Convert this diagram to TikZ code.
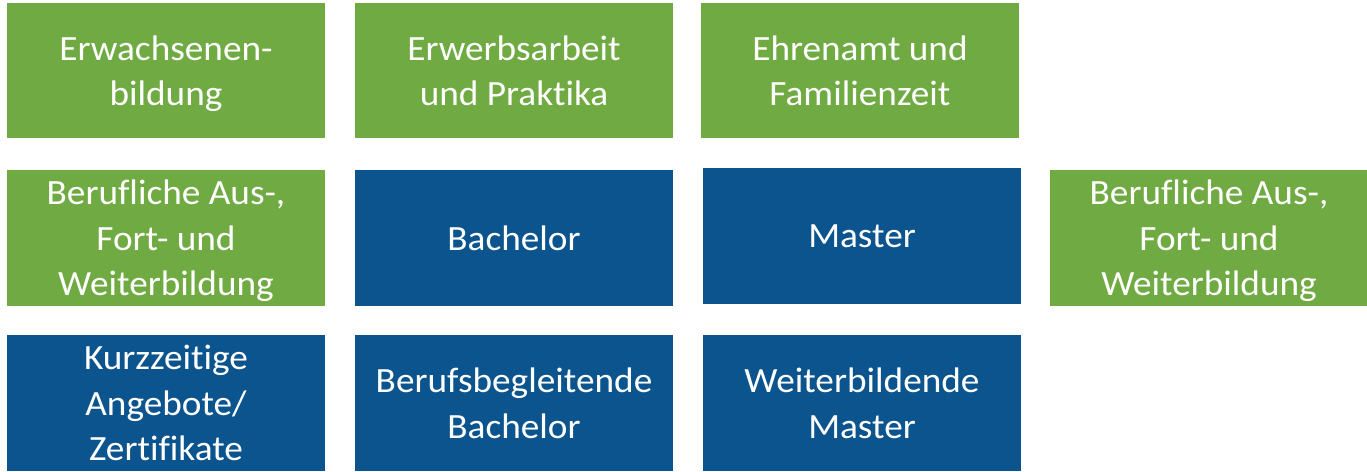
\documentclass[tikz,border=0pt]{standalone}
\usepackage{fontspec}
\setmainfont{Carlito}[Ligatures=NoCommon, FakeStretch=1.05]
\usepackage{tikz}
\usetikzlibrary{positioning}
\definecolor{BoxGreen}{RGB}{112,170,66}
\definecolor{BoxBlue}{RGB}{11,84,141}
\tikzset{
  tile/.style = {minimum width=318pt, minimum height=136pt, inner sep=0pt, text=white, align=center,
                 text depth=-2.5pt, font=\fontsize{35.5}{45.5}\selectfont},
  greentile/.style = {tile, fill=BoxGreen},
  bluetile/.style = {tile, fill=BoxBlue}
}

\begin{document}
\begin{tikzpicture}[x=1pt, y=-1pt]
            \useasboundingbox (0,0) rectangle (1367,471);

            % obere Reihe
            \node[greentile, minimum height=135pt, text depth=-4pt] (erwachsen) at (166,70.5) {Erwachsenen-\\bildung};
            \node[greentile, minimum height=135pt, text depth=-4pt] (erwerb) at (514,70.5) {Erwerbsarbeit\\und Praktika};
            \node[greentile, minimum height=135pt, text depth=-4pt] (ehrenamt) at (860,70.5) {Ehrenamt und\\Familienzeit};

            % mittlere Reihe
            \node[greentile] (beruflichA) at (166,238) {Berufliche Aus-,\\Fort- und\\Weiterbildung};
            \node[bluetile] (bachelor) at (514,238) {Bachelor};
            \node[bluetile] (master) at (862,236) {Master};
            \node[greentile] (beruflichB) at (1209,238) {Berufliche Aus-,\\Fort- und\\Weiterbildung};

            % untere Reihe
            \node[bluetile] (kurz) at (166,403) {Kurzzeitige\\Angebote/\\Zertifikate};
            \node[bluetile] (bbachelor) at (514,403) {Berufsbegleitende\\Bachelor};
            \node[bluetile] (wmaster) at (862,403) {Weiterbildende\\Master};
        \end{tikzpicture}
\end{document}
